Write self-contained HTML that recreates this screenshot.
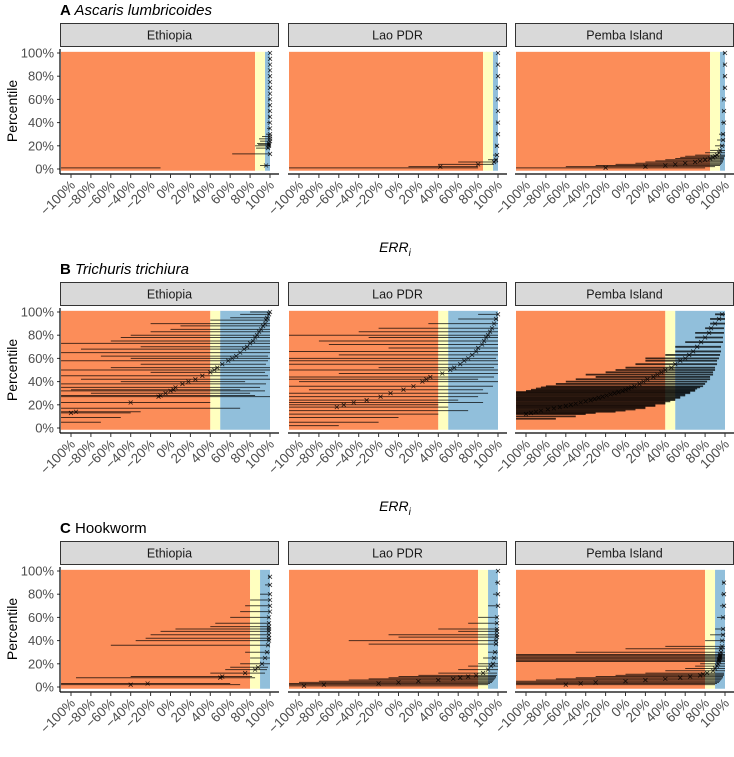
<!DOCTYPE html>
<html><head><meta charset="utf-8"><style>
html,body{margin:0;padding:0;background:#fff}
svg{display:block;font-family:"Liberation Sans",sans-serif}
</style></head><body>
<svg id="chart" width="734" height="757" viewBox="0 0 734 757"></svg>
<script>
const rows = ["A","B","C"];
const rowSpecies = ["Ascaris lumbricoides","Trichuris trichiura","Hookworm"];
const rowItalic = [true,true,false];
const sites = ["Ethiopia","Lao PDR","Pemba Island"];
const thrLow = [85,40,80];
const thrHigh = [95,50,90];
const xTicks = [-100,-80,-60,-40,-20,0,20,40,60,80,100];
const yTicks = [0,20,40,60,80,100];

// A Ethiopia
const pctAE = [1,3,13,18,20,21,22,24,26,28,30,35,40,45,50,55,60,65,70,75,80,85,90,95,100];
const estAE = [null,96,100,98,99,99,99,100,100,100,100,100,100,100,100,100,100,100,100,100,100,100,100,100,100];
const loAE  = [-110,90,62,86,85,88,87,90,89,92,96,97,97,98,98,98,98,99,99,99,99,99,99,99,99];
const hiAE  = [-10,100,100,100,100,100,100,100,100,100,100,100,100,100,100,100,100,100,100,100,100,100,100,100,100];
// A Lao
const pctAL = [1,2,4,6,8,12,20,30,40,50,60,70,80,90,100];
const estAL = [null,42,80,96,98,99,99,100,100,100,100,100,100,100,100];
const loAL  = [-110,10,40,60,90,95,97,98,98,99,99,99,99,99,99];
const hiAL  = [80,80,96,100,100,100,100,100,100,100,100,100,100,100,100];
// A Pemba
const pctAP = [1,2,3,4,5,6,7,8,9,10,11,12,14,16,20,25,30,40,50,60,70,80,90,100];
const estAP = [-20,20,40,50,60,70,75,80,85,88,90,92,94,95,97,98,98,99,99,99,100,100,100,100];
const loAP  = [-110,-60,-30,-10,10,20,30,40,50,55,60,70,80,85,90,92,94,96,97,97,98,98,98,98];
const hiAP  = [80,90,95,96,97,98,98,99,99,99,100,100,100,100,100,100,100,100,100,100,100,100,100,100];
// B Ethiopia
const pctBE = [5,9,13,14,17,22,27,28,30,32,33,35,38,40,42,45,48,50,52,55,58,60,62,65,68,70,73,75,78,80,83,85,88,90,93,95,98,100];
const estBE = [null,null,-100,-95,null,-40,-12,-10,-5,0,3,5,12,18,25,32,40,44,47,52,58,62,66,70,74,77,80,83,85,87,89,91,93,95,96,97,99,100];
const loBE  = [-110,-110,-110,-110,-110,-110,-110,-110,-80,-110,-100,-110,-110,-50,-90,-110,-20,-110,-60,-30,-110,-40,-70,-110,-90,-30,-110,-60,-50,-40,-20,0,10,-20,40,60,70,80];
const hiBE  = [-70,-50,-40,-30,70,40,100,85,80,95,70,90,96,75,100,98,95,100,100,96,98,100,98,100,100,100,100,100,100,100,100,100,100,100,100,100,100,100];
// B Lao
const pctBL = [2,5,9,12,15,18,20,22,24,27,30,33,36,40,42,44,47,50,52,55,58,60,63,66,69,72,75,78,80,83,86,90,94,98];
const estBL = [null,null,null,null,null,-62,-55,-45,-32,-18,-8,5,15,24,28,32,44,52,56,62,66,70,74,78,80,84,86,88,90,92,94,96,98,100];
const loBL  = [-110,-110,-110,-110,-110,-110,-110,-110,-110,-110,-110,-90,-110,-100,-110,-110,-60,-110,-20,-110,-110,-110,-60,-110,-10,-70,-80,-30,-110,-40,-20,30,60,80];
const hiBL  = [-60,-20,0,40,70,50,40,85,60,80,90,85,95,100,80,96,100,100,96,100,100,98,100,100,100,100,100,100,100,100,100,100,100,100];
// B Pemba
const pctBP = [8,10,12,13,14,15,16,17,18,19,20,21,22,23,24,25,26,27,28,29,30,31,32,33,34,35,36,38,40,42,44,46,48,50,52,55,58,60,63,66,70,74,78,82,86,90,94,98];
const estBP = [null,null,-100,-95,-90,-85,-78,-72,-66,-60,-55,-50,-45,-40,-35,-31,-27,-23,-19,-15,-11,-7,-3,0,3,6,9,14,18,22,28,32,36,40,46,50,55,60,64,68,72,76,80,84,86,90,94,97];
const loBP  = [-110,-110,-110,-110,-110,-110,-110,-110,-110,-110,-110,-110,-110,-110,-110,-110,-110,-110,-110,-110,-110,-110,-100,-95,-90,-85,-80,-70,-60,-50,-30,-40,-20,-10,0,10,20,20,40,50,50,60,70,70,80,85,85,90];
const hiBP  = [-70,-50,-40,-30,-10,0,10,20,20,30,30,40,40,45,50,50,55,55,60,60,65,65,70,70,72,75,78,80,82,85,85,88,88,90,90,92,92,94,95,96,96,98,98,99,99,100,100,100];
// C Ethiopia
const pctCE = [2,3,8,9,12,15,17,20,25,30,36,40,42,45,48,50,52,55,60,65,70,75,80,88,95];
const estCE = [-40,-23,50,52,75,85,88,92,95,97,98,99,99,99,99,99,99,99,99,100,100,100,100,100,100];
const loCE  = [-110,-110,-95,-40,40,55,60,70,80,75,-60,-35,-25,-20,-10,5,40,45,60,70,75,80,90,95,98];
const hiCE  = [70,60,85,82,95,97,98,100,100,100,100,100,100,100,100,100,100,100,100,100,100,100,100,100,100];
// C Lao
const pctCL = [1,2,3,4,5,6,7,8,9,10,12,15,18,20,25,30,37,40,43,45,48,50,55,60,70,80,90,100];
const estCL = [-95,-75,-20,0,20,40,55,62,70,78,85,90,93,95,96,97,98,98,99,99,99,99,99,99,100,100,100,100];
const loCL  = [-110,-110,-110,-100,-80,-50,-30,-10,0,20,40,60,70,80,85,90,-30,-50,0,-10,60,40,70,80,90,95,97,99];
const hiCL  = [80,90,92,94,95,96,97,98,98,99,99,100,100,100,100,100,100,100,100,100,100,100,100,100,100,100,100,100];
// C Pemba
const pctCP = [2,3,4,5,6,7,8,9,10,11,12,14,16,18,20,22,23,24,25,26,27,28,30,33,35,40,45,50,60,70,80,90];
const estCP = [-60,-45,-30,0,20,40,55,65,75,78,82,88,90,92,93,94,94,94,95,95,95,95,96,96,97,97,98,98,98,99,99,99];
const loCP  = [-110,-110,-110,-110,-90,-70,-50,-30,-10,0,20,40,60,70,75,-110,-110,-110,-110,-110,-110,-110,-50,0,40,80,85,90,92,95,96,97];
const hiCP  = [90,92,94,95,96,97,98,98,99,99,99,100,100,100,100,100,100,100,100,100,100,100,100,100,100,100,100,100,100,100,100,100];

const facetData = [
 [[pctAE,estAE,loAE,hiAE],[pctAL,estAL,loAL,hiAL],[pctAP,estAP,loAP,hiAP]],
 [[pctBE,estBE,loBE,hiBE],[pctBL,estBL,loBL,hiBL],[pctBP,estBP,loBP,hiBP]],
 [[pctCE,estCE,loCE,hiCE],[pctCL,estCL,loCL,hiCL],[pctCP,estCP,loCP,hiCP]]
];

const svg = document.getElementById('chart');
const NS = "http://www.w3.org/2000/svg";
function mk(tag, attrs, parent){ const e=document.createElementNS(NS,tag); for(const k in attrs) e.setAttribute(k,attrs[k]); (parent||svg).appendChild(e); return e; }
const rowTops = [23,282,541];
const facetLefts = [60,288,515];
const facetW = 219;
const xS = (left,v)=> left+11+(v+100)*0.995;
const yS = (top,p)=> top+146-p*1.16;

rows.forEach((r,ri)=>{
  const top = rowTops[ri];
  const title = mk('text',{x:60,y:top-8,'font-size':15,fill:'#000'});
  
  
  const b=mk('tspan',{'font-weight':'bold'},title); b.textContent=r+' ';
  const s=mk('tspan',{'font-style':rowItalic[ri]?'italic':'normal'},title); s.textContent=rowSpecies[ri];
  const yt = mk('text',{x:0,y:0,'font-size':14,'text-anchor':'middle',transform:`translate(17,${top+88}) rotate(-90)`,fill:'#000'});
  
  
  yt.textContent='Percentile';
  yTicks.forEach(p=>{
    const y=yS(top,p);
    const l=mk('line',{x1:57,x2:60,y1:y,y2:y,stroke:'#333'});
    
    
    const t=mk('text',{x:54,y:y+4.5,'font-size':13,'text-anchor':'end',fill:'#4d4d4d'});
    
    
    t.textContent=p+'%';
  });
  mk('line',{x1:60,x2:60,y1:top+26,y2:top+151,stroke:'#000','stroke-width':1.2});
  const xt = mk('text',{x:395,y:top+229,'font-size':14,'text-anchor':'middle','font-style':'italic',fill:'#000'});
  
  
  xt.textContent='ERR';
  const sub=mk('tspan',{'font-size':10,dy:4},xt); sub.textContent='i';

  sites.forEach((site,si)=>{
    const left = facetLefts[si];
    const g = mk('g',{});
    
    
    const st = mk('rect',{x:left+0.5,y:top+0.5,width:facetW-1,height:23,fill:'#d9d9d9',stroke:'#333','stroke-width':1},g);
    
    
    const stt = mk('text',{x:left+facetW/2,y:top+16.5,'font-size':12.5,'text-anchor':'middle',fill:'#1a1a1a'},g);
    
    
    stt.textContent=site;
    const yTop=yS(top,101), yBot=yS(top,-1.5);
    const zones=[[-111,thrLow[ri],'#fc8d59','zone-fail'],[thrLow[ri],thrHigh[ri],'#ffffbf','zone-doubtful'],[thrHigh[ri],100,'#91bfdb','zone-satisfactory']];
    zones.forEach(z=>{
      const x1=z[0]===-111?left+1:xS(left,z[0]);
      const rr=mk('rect',{x:x1,y:yTop,width:xS(left,z[1])-x1,height:yBot-yTop,fill:z[2]},g);
      
      
    });
    const [pc,es,lo,hi]=facetData[ri][si];
    const dense = pc.length>40;
    pc.forEach((p,i)=>{
      const y=yS(top,p);
      const l=mk('line',{x1:xS(left,Math.max(lo[i],-111)),x2:xS(left,hi[i]),y1:y,y2:y,stroke:'#000','stroke-width':dense?1.8:1,'stroke-opacity':dense?0.75:0.7},g);
      
      
    });
    pc.forEach((p,i)=>{
      if(es[i]===null) return;
      const y=yS(top,p), x=xS(left,es[i]);
      const m=mk('path',{d:`M${x-2},${y-2}L${x+2},${y+2}M${x-2},${y+2}L${x+2},${y-2}`,stroke:'#000','stroke-width':0.8,'stroke-opacity':0.8},g);
      
      
    });
    mk('line',{x1:left,x2:left+facetW,y1:top+151,y2:top+151,stroke:'#000','stroke-width':1.2},g);
    xTicks.forEach(v=>{
      const x=xS(left,v);
      const tk=mk('line',{x1:x,x2:x,y1:top+151,y2:top+155,stroke:'#333'},g);
      
      
      const t=mk('text',{x:0,y:0,'font-size':13.5,'text-anchor':'end',fill:'#4d4d4d',transform:`translate(${x+5},${top+163}) rotate(-45)`},g);
      
      
      t.textContent=(v<0?'\u2212'+(-v):v)+'%';
    });
  });
});
</script>
</body></html>
